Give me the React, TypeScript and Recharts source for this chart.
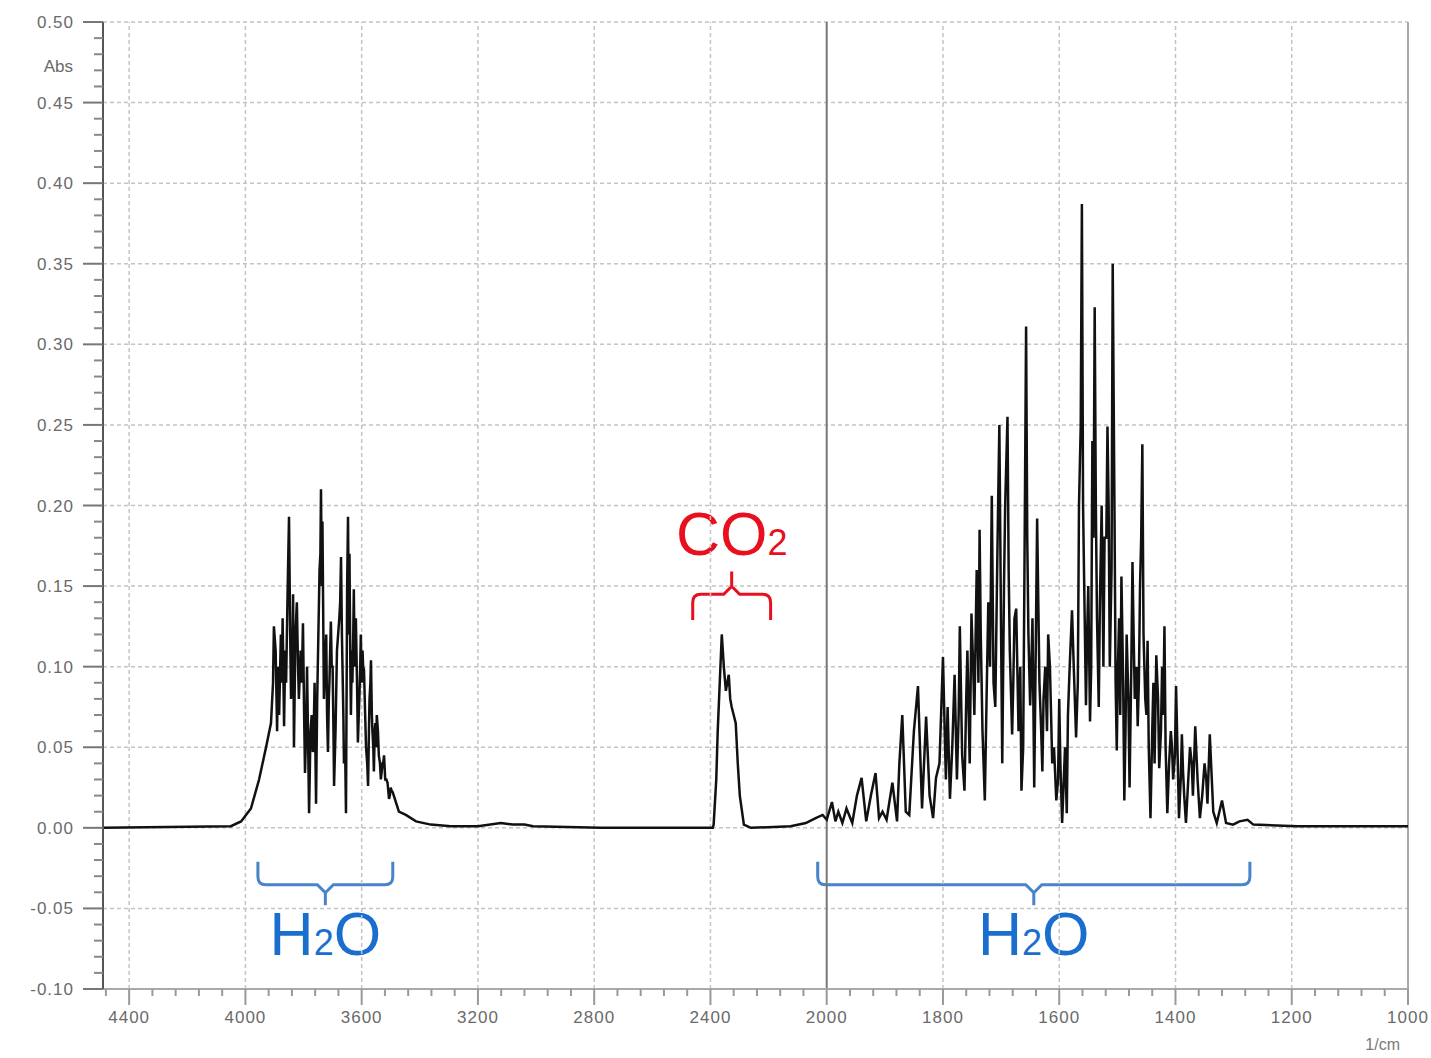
import React from "react";
import { LineChart, Line, XAxis, YAxis, ReferenceLine, ReferenceArea } from "recharts";

// wavenumber (1/cm) and absorbance
const stretchWn = [
  4490, 4050, 4015, 3981, 3953, 3929, 3912, 3902, 3896, 3891, 3884, 3878, 3872, 3867, 3860, 3855, 3850, 3843,
  3836, 3833, 3828, 3823, 3816, 3810, 3802, 3795, 3788, 3781, 3776, 3768, 3762, 3757, 3750, 3745, 3740, 3735,
  3730, 3722, 3716, 3711, 3706, 3700, 3695, 3690, 3685, 3677, 3671, 3666, 3661, 3654, 3647, 3642, 3637, 3632,
  3627, 3620, 3613, 3608, 3603, 3597, 3592, 3585, 3578, 3573, 3568, 3563, 3558, 3553, 3548, 3541, 3534, 3528,
  3523, 3515, 3506, 3500, 3493, 3472, 3448, 3413, 3362, 3293, 3200, 3121, 3080, 3040, 3010, 2777,
];
const stretchAbs = [
  0, 0.001, 0.004, 0.012, 0.03, 0.05, 0.065, 0.125, 0.11, 0.06, 0.07, 0.12, 0.13, 0.063, 0.09, 0.145, 0.193, 0.08,
  0.145, 0.05, 0.12, 0.14, 0.08, 0.11, 0.127, 0.034, 0.1, 0.009, 0.06, 0.047, 0.09, 0.015, 0.11, 0.16, 0.21, 0.19,
  0.08, 0.12, 0.047, 0.09, 0.128, 0.1, 0.026, 0.06, 0.11, 0.13, 0.168, 0.1, 0.04, 0.009, 0.193, 0.17, 0.07, 0.09,
  0.148, 0.13, 0.053, 0.08, 0.12, 0.11, 0.098, 0.05, 0.026, 0.08, 0.104, 0.06, 0.035, 0.065, 0.07, 0.045, 0.03, 0.04,
  0.045, 0.03, 0.018, 0.025, 0.022, 0.01, 0.008, 0.004, 0.002, 0.001, 0.001, 0.003, 0.002, 0.002, 0.001, 0,
];
// in-between spikes that fill the dense part of the band
const stretchFillWn = [
  3905, 3888, 3875, 3863, 3846, 3839, 3819, 3806, 3798, 3791, 3784, 3772, 3765, 3753, 3742, 3737, 3726, 3719,
  3713, 3703, 3697, 3687, 3681, 3674, 3668, 3663, 3657, 3650, 3644, 3639, 3634, 3629, 3624, 3616, 3610, 3605,
  3600, 3595, 3588, 3581, 3575, 3570, 3565, 3560, 3555, 3550, 3544, 3537, 3531, 3526, 3519, 3511, 3503, 3497,
];
const stretchFillAbs = [
  0.09, 0.1, 0.09, 0.11, 0.12, 0.1, 0.1, 0.09, 0.07, 0.06, 0.05, 0.07, 0.06, 0.08, 0.17, 0.15, 0.1, 0.07,
  0.08, 0.1, 0.06, 0.09, 0.12, 0.14, 0.12, 0.07, 0.05, 0.15, 0.12, 0.1, 0.11, 0.12, 0.1, 0.09, 0.07, 0.1,
  0.09, 0.1, 0.07, 0.04, 0.06, 0.09, 0.07, 0.05, 0.06, 0.05, 0.06, 0.04, 0.035, 0.04, 0.03, 0.028, 0.02, 0.023,
];

const co2Wn = [2392, 2389, 2380, 2375, 2368, 2361, 2354, 2347, 2342, 2337, 2332, 2327, 2320, 2313, 2306, 2299, 2285, 2261, 2124, 2072, 2038, 2014];
const co2Abs = [0, 0.002, 0.03, 0.06, 0.09, 0.12, 0.1, 0.085, 0.09, 0.095, 0.08, 0.075, 0.07, 0.065, 0.04, 0.02, 0.002, 0, 0.001, 0.003, 0.006, 0.008];

const bendWn = [
  2000, 1991, 1985, 1980, 1973, 1966, 1956, 1948, 1940, 1932, 1924, 1916, 1910, 1904, 1897, 1887, 1879, 1875,
  1870, 1864, 1858, 1850, 1843, 1836, 1829, 1823, 1817, 1812, 1806, 1800, 1795, 1792, 1788, 1780, 1776, 1771,
  1767, 1763, 1758, 1754, 1751, 1746, 1742, 1737, 1732, 1728, 1722, 1716, 1713, 1710, 1706, 1703, 1698, 1693,
  1689, 1685, 1681, 1677, 1674, 1670, 1665, 1660, 1657, 1653, 1650, 1646, 1643, 1638, 1634, 1629, 1624, 1619,
  1612, 1605, 1600, 1595, 1590, 1587, 1582, 1578, 1571, 1566, 1561, 1557, 1554, 1550, 1547, 1543, 1539, 1535,
  1532, 1527, 1522, 1517, 1513, 1508, 1501, 1497, 1493, 1488, 1484, 1479, 1474, 1470, 1465, 1461, 1457, 1452,
  1448, 1443, 1438, 1433, 1428, 1423, 1419, 1414, 1408, 1404, 1399, 1394, 1389, 1385, 1382, 1375, 1370, 1366,
  1358, 1350, 1345, 1341, 1335, 1329, 1320, 1313, 1301, 1290, 1276, 1266, 1190, 1000,
];
const bendAbs = [
  0.005, 0.016, 0.004, 0.01, 0.003, 0.012, 0.003, 0.02, 0.031, 0.004, 0.02, 0.034, 0.006, 0.01, 0.005, 0.028, 0.004, 0.04,
  0.07, 0.01, 0.008, 0.06, 0.088, 0.012, 0.069, 0.02, 0.006, 0.031, 0.04, 0.106, 0.03, 0.075, 0.018, 0.095, 0.03, 0.125,
  0.045, 0.023, 0.11, 0.04, 0.133, 0.07, 0.16, 0.185, 0.06, 0.017, 0.14, 0.206, 0.09, 0.075, 0.18, 0.25, 0.04, 0.2,
  0.255, 0.11, 0.058, 0.13, 0.136, 0.06, 0.023, 0.15, 0.311, 0.12, 0.076, 0.13, 0.025, 0.192, 0.09, 0.035, 0.1, 0.12,
  0.04, 0.017, 0.08, 0.003, 0.05, 0.009, 0.1, 0.135, 0.056, 0.2, 0.387, 0.15, 0.076, 0.15, 0.066, 0.24, 0.323, 0.13,
  0.075, 0.2, 0.18, 0.249, 0.1, 0.35, 0.048, 0.13, 0.156, 0.017, 0.12, 0.025, 0.165, 0.08, 0.063, 0.15, 0.238, 0.08,
  0.116, 0.006, 0.09, 0.107, 0.037, 0.1, 0.125, 0.009, 0.06, 0.03, 0.088, 0.006, 0.058, 0.02, 0.003, 0.05, 0.02, 0.063,
  0.006, 0.04, 0.015, 0.058, 0.01, 0.003, 0.017, 0.003, 0.002, 0.004, 0.005, 0.002, 0.001, 0.001,
];
const bendFillWn = [
  1797, 1784, 1773, 1760, 1748, 1739, 1735, 1725, 1719, 1700, 1695, 1687, 1679, 1667, 1662, 1655, 1648, 1641,
  1636, 1631, 1627, 1621, 1616, 1609, 1602, 1598, 1585, 1575, 1568, 1563, 1559, 1552, 1545, 1541, 1537, 1530,
  1524, 1519, 1515, 1510, 1505, 1503, 1499, 1495, 1490, 1486, 1481, 1476, 1472, 1467, 1463, 1459, 1455, 1450,
  1446, 1440, 1436, 1430, 1425, 1421, 1417, 1411, 1406, 1401, 1396, 1391, 1387, 1378, 1372, 1362, 1354, 1347,
];
const bendFillAbs = [
  0.06, 0.05, 0.07, 0.08, 0.1, 0.09, 0.12, 0.08, 0.1, 0.12, 0.15, 0.16, 0.09, 0.1, 0.05, 0.18, 0.1, 0.09,
  0.14, 0.06, 0.08, 0.06, 0.1, 0.05, 0.03, 0.04, 0.07, 0.1, 0.09, 0.25, 0.2, 0.12, 0.1, 0.18, 0.2, 0.14,
  0.1, 0.18, 0.2, 0.16, 0.2, 0.09, 0.1, 0.07, 0.09, 0.06, 0.08, 0.1, 0.12, 0.1, 0.09, 0.18, 0.12, 0.07,
  0.05, 0.06, 0.04, 0.08, 0.06, 0.07, 0.05, 0.04, 0.05, 0.045, 0.04, 0.03, 0.035, 0.03, 0.04, 0.03, 0.02, 0.03,
];

const xMajorWn = [4400, 4000, 3600, 3200, 2800, 2400, 2000, 1800, 1600, 1400, 1200, 1000];
const yMajor = [0.5, 0.45, 0.4, 0.35, 0.3, 0.25, 0.2, 0.15, 0.1, 0.05, 0, -0.05, -0.1];

// axis is compressed 2x above 2000 1/cm
const SPLIT = 2000;
const LEFT_LIMIT = 4490;
const toU = (wn: number) => (wn <= SPLIT ? wn : SPLIT + (wn - SPLIT) / 2);
const toWn = (u: number) => (u <= SPLIT ? u : SPLIT + (u - SPLIT) * 2);

const xMajorU = xMajorWn.map(toU);
const xTicks: number[] = [];
for (let u = 1000; u <= toU(LEFT_LIMIT); u += 40) xTicks.push(u);
const yTicks: number[] = [];
for (let i = -10; i <= 50; i++) yTicks.push(i / 100);

const pairs = (wn: number[], ab: number[]) => wn.map((w, i) => ({ u: toU(w), a: ab[i] }));
const data = [
  ...pairs(stretchWn, stretchAbs),
  ...pairs(stretchFillWn, stretchFillAbs),
  ...pairs(co2Wn, co2Abs),
  ...pairs(bendWn, bendAbs),
  ...pairs(bendFillWn, bendFillAbs),
].sort((p, q) => q.u - p.u);

const FONT = "'Liberation Sans', Arial, sans-serif";
const BLUE = "#1a6fce";
const RED = "#e8101e";

function YTick({ x, y, payload }: any) {
  const v = payload.value;
  const major = Math.round(v * 100) % 5 === 0;
  return (
    <g>
      <line x1={x - (major ? 20 : 9)} x2={x} y1={y} y2={y} stroke={major ? "#777" : "#888"} strokeWidth={2} />
      {major && (
        <text x={x - 29} y={y + 6} textAnchor="end" fontSize={17} letterSpacing={1} fill="#6a6a6a" fontFamily={FONT}>
          {v.toFixed(2)}
        </text>
      )}
    </g>
  );
}

function XTick({ x, y, payload }: any) {
  const u = payload.value;
  const major = xMajorU.includes(u);
  return (
    <g>
      <line x1={x} x2={x} y1={y} y2={y + (major ? 16 : 7)} stroke="#999" strokeWidth={2} />
      {major && (
        <text x={x} y={y + 34} textAnchor="middle" fontSize={17} letterSpacing={1} fill="#6a6a6a" fontFamily={FONT}>
          {toWn(u)}
        </text>
      )}
    </g>
  );
}

function Brace({ x, y, width, height, color, textColor, up, sub, main1, main2 }: any) {
  const x0 = x;
  const x1 = x + width;
  const cx = x + width / 2;
  const r = 8;
  const d = 8;
  let path: string;
  let ty: number;
  if (!up) {
    const yH = y + height * 0.53;
    const yP = yH + d;
    path = `M${x0},${y} V${yH - r} Q${x0},${yH} ${x0 + r},${yH} H${cx - d} L${cx},${yP} V${y + height} M${cx},${yP} L${cx + d},${yH} H${x1 - r} Q${x1},${yH} ${x1},${yH - r} V${y}`;
    ty = y + height + 50;
  } else {
    const yB = y + height;
    const yH = yB - height * 0.53;
    const yP = yH - d;
    path = `M${x0},${yB} V${yH + r} Q${x0},${yH} ${x0 + r},${yH} H${cx - d} L${cx},${yP} V${y} M${cx},${yP} L${cx + d},${yH} H${x1 - r} Q${x1},${yH} ${x1},${yH + r} V${yB}`;
    ty = y - 17;
  }
  return (
    <g>
      <path d={path} fill="none" stroke={color} strokeWidth={3} />
      <text x={cx} y={ty} textAnchor="middle" fontSize={61} fill={textColor} fontFamily={FONT}>
        {main1}
        <tspan fontSize={36}>{sub}</tspan>
        {main2}
      </text>
    </g>
  );
}

const braces = [
  { from: 3957, to: 3493, lo: -0.048, hi: -0.021, up: false, color: "#4a84c8", textColor: BLUE, main1: "H", sub: "2", main2: "O" },
  { from: 2031, to: 1272, lo: -0.048, hi: -0.021, up: false, color: "#4a84c8", textColor: BLUE, main1: "H", sub: "2", main2: "O" },
  { from: 2461, to: 2193, lo: 0.129, hi: 0.159, up: true, color: RED, textColor: RED, main1: "CO", sub: "2", main2: "" },
];

export default function App() {
  return (
    <div style={{ position: "absolute", left: 0, top: 0, width: 1431, height: 1058, background: "#fff", fontFamily: FONT }}>
      <LineChart width={1431} height={1058} data={data} margin={{ top: 22, right: 23, bottom: 0, left: 0 }}>
        <XAxis
          dataKey="u"
          type="number"
          domain={[1000, toU(LEFT_LIMIT)]}
          reversed
          allowDataOverflow
          ticks={xTicks}
          interval={0}
          tickLine={false}
          tickSize={0}
          tickMargin={0}
          tick={<XTick />}
          height={69}
          axisLine={{ stroke: "#aaa", strokeWidth: 2 }}
          label={{ value: "1/cm", position: "insideBottomRight", offset: 8, fontSize: 16, fill: "#7a7a7a", fontFamily: FONT }}
        />
        <YAxis
          type="number"
          domain={[-0.1, 0.5]}
          allowDataOverflow
          ticks={yTicks}
          interval={0}
          tickLine={false}
          tickSize={0}
          tickMargin={0}
          tick={<YTick />}
          width={103}
          axisLine={{ stroke: "#555", strokeWidth: 2 }}
          label={{
            value: "Abs",
            content: ({ viewBox }: any) => (
              <text x={viewBox.x + viewBox.width - 30} y={viewBox.y + 50} textAnchor="end" fontSize={17} fill="#6a6a6a" fontFamily={FONT}>
                Abs
              </text>
            ),
          }}
        />
        {yMajor
          .filter((v) => v > -0.1)
          .map((v) => (
            <ReferenceLine key={"h" + v} y={v} stroke="#c4c4c4" strokeDasharray="4 3" strokeWidth={1.5} />
          ))}
        {xMajorWn
          .filter((w) => w !== SPLIT && w !== 1000)
          .map((w) => (
            <ReferenceLine key={"v" + w} x={toU(w)} stroke="#c4c4c4" strokeDasharray="4 3" strokeWidth={1.5} />
          ))}
        <ReferenceLine x={toU(SPLIT)} stroke="#777" strokeWidth={2} />
        <ReferenceLine x={1000} stroke="#aaa" strokeWidth={2} />
        <Line dataKey="a" type="linear" stroke="#111" strokeWidth={2.5} dot={false} isAnimationActive={false} />
        {braces.map((b, i) => (
          <ReferenceArea
            key={i}
            x1={toU(b.from)}
            x2={toU(b.to)}
            y1={b.lo}
            y2={b.hi}
            shape={(p: any) => <Brace {...p} {...b} />}
          />
        ))}
      </LineChart>
    </div>
  );
}
